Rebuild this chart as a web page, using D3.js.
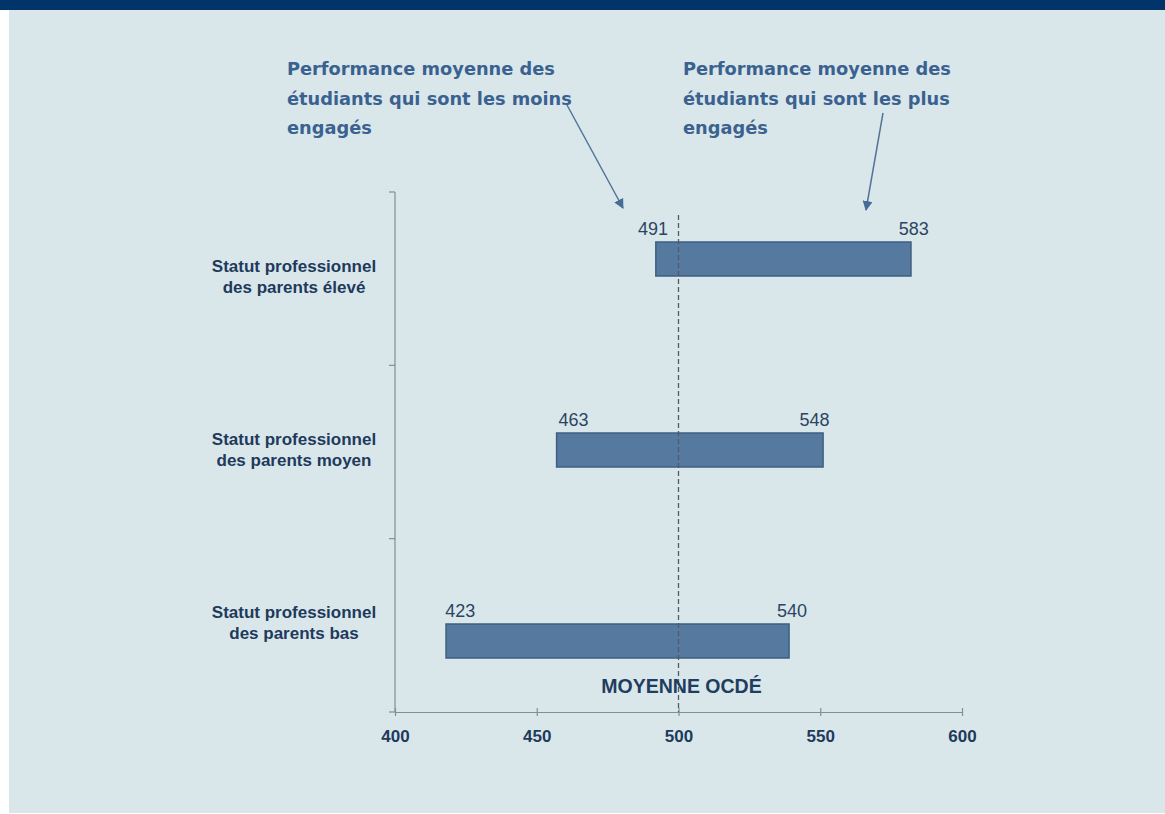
<!DOCTYPE html>
<html><head><meta charset="utf-8">
<script src="https://cdn.jsdelivr.net/npm/d3@7"></script>
<style>
html,body{margin:0;padding:0;background:#ffffff;}
svg{display:block;}
</style></head>
<body>
<svg id="chart" width="1165" height="814"></svg>
<script>
// ---- data ----
const categories = [
  ["Statut professionnel", "des parents élevé"],
  ["Statut professionnel", "des parents moyen"],
  ["Statut professionnel", "des parents bas"]
];
const lowLabels  = [491, 463, 423];   // printed value, least engaged students
const highLabels = [583, 548, 540];   // printed value, most engaged students
const barLow  = [492, 457, 418];      // bar start as drawn in the picture
const barHigh = [582, 551, 539];      // bar end as drawn in the picture
const xTicks = [400, 450, 500, 550, 600];
const oecdMean = 500;
const oecdLabel = "MOYENNE OCDÉ";
const noteLeft  = ["Performance moyenne des", "étudiants qui sont les moins", "engagés"];
const noteRight = ["Performance moyenne des", "étudiants qui sont les plus", "engagés"];

// ---- drawing ----
const svg = d3.select("#chart");
svg.append("rect").attr("x", 0).attr("y", 0).attr("width", 1165).attr("height", 814).attr("fill", "#ffffff");
svg.append("rect").attr("x", 9).attr("y", 0).attr("width", 1156).attr("height", 813).attr("fill", "#dae7ea");
svg.append("rect").attr("x", 0).attr("y", 0).attr("width", 1165).attr("height", 10).attr("fill", "#01356a");

const x = d3.scaleLinear().domain([400, 600]).range([395, 962]);
const idx = categories.map((d, i) => i);
const yBand = d3.scaleBand().domain(idx).range([192, 712]);
const yBar = d3.scalePoint().domain(idx).range([259, 641]);
const barH = 34;

const axisColor = "#7f8f98";
// y axis
svg.append("line").attr("x1", 395).attr("x2", 395).attr("y1", yBand.range()[0]).attr("y2", yBand.range()[1])
  .attr("stroke", axisColor).attr("stroke-width", 1.2);
const yTickPos = idx.map(i => yBand(i)).concat([yBand.range()[1]]);
svg.selectAll(".ytick").data(yTickPos).join("line")
  .attr("x1", 389).attr("x2", 395).attr("y1", d => d).attr("y2", d => d)
  .attr("stroke", axisColor).attr("stroke-width", 1.2);

// x axis
const xAxisG = svg.append("g").attr("transform", "translate(0,712)")
  .call(d3.axisBottom(x).tickValues(xTicks).tickSize(5).tickSizeOuter(0).tickFormat(d3.format("d")));
xAxisG.select(".domain").attr("stroke", axisColor).attr("stroke-width", 1.2);
xAxisG.selectAll(".tick line").attr("stroke", axisColor).attr("stroke-width", 1.2).attr("y1", -4).attr("y2", 4);
xAxisG.selectAll(".tick text").attr("y", 30).attr("dy", 0)
  .attr("font-family", "Liberation Sans, Arial, sans-serif").attr("font-weight", "bold")
  .attr("font-size", 17).attr("fill", "#1e3a5c");

// bars
svg.selectAll(".bar").data(idx).join("rect")
  .attr("x", i => x(barLow[i])).attr("width", i => x(barHigh[i]) - x(barLow[i]))
  .attr("y", i => yBar(i) - barH / 2).attr("height", barH)
  .attr("fill", "#56799f").attr("stroke", "#3f5f82").attr("stroke-width", 1.5);

// dashed OECD line
svg.append("line").attr("x1", x(oecdMean)).attr("x2", x(oecdMean)).attr("y1", 215).attr("y2", 712)
  .attr("stroke", "#4f5b66").attr("stroke-width", 1.3).attr("stroke-dasharray", "5,3");

// value labels
const numFont = "Liberation Sans, Arial, sans-serif";
svg.selectAll(".lowlab").data(idx).join("text")
  .attr("x", i => x(lowLabels[i])).attr("y", i => yBar(i) - barH / 2 - 7)
  .attr("text-anchor", "middle").attr("font-family", numFont).attr("font-size", 18).attr("fill", "#2a4562")
  .text(i => lowLabels[i]);
svg.selectAll(".highlab").data(idx).join("text")
  .attr("x", i => x(highLabels[i])).attr("y", i => yBar(i) - barH / 2 - 7)
  .attr("text-anchor", "middle").attr("font-family", numFont).attr("font-size", 18).attr("fill", "#2a4562")
  .text(i => highLabels[i]);

// category labels
const catG = svg.selectAll(".cat").data(idx).join("text")
  .attr("text-anchor", "middle").attr("font-family", numFont).attr("font-weight", "bold")
  .attr("font-size", 17).attr("fill", "#1e3a5c");
catG.each(function(i) {
  const t = d3.select(this);
  const cy = yBand(i) + yBand.bandwidth() / 2;
  categories[i].forEach((line, k) => {
    t.append("tspan").attr("x", 294).attr("y", cy - 7 + k * 21).text(line);
  });
});

// OECD label
svg.append("text").attr("x", x(oecdMean) + 3).attr("y", 693).attr("text-anchor", "middle")
  .attr("font-family", numFont).attr("font-weight", "bold").attr("font-size", 19.5).attr("fill", "#1f3d60")
  .text(oecdLabel);

// annotations
const noteFont = "DejaVu Sans, sans-serif";
function note(lines, x0) {
  const t = svg.append("text").attr("font-family", noteFont).attr("font-weight", "bold")
    .attr("font-size", 17.8).attr("fill", "#3a6290");
  lines.forEach((l, k) => t.append("tspan").attr("x", x0).attr("y", 75 + k * 29.5).text(l));
}
note(noteLeft, 287);
note(noteRight, 683);

// arrows
const defs = svg.append("defs");
defs.append("marker").attr("id", "ah").attr("viewBox", "0 0 10 10").attr("refX", 9).attr("refY", 5)
  .attr("markerWidth", 10).attr("markerHeight", 10).attr("markerUnits", "userSpaceOnUse").attr("orient", "auto")
  .append("path").attr("d", "M0,0 L10,5 L0,10 Z").attr("fill", "#476d95");
const arrows = [[567, 105, 623, 208], [883, 113, 866, 210]];
svg.selectAll(".arrow").data(arrows).join("line")
  .attr("x1", d => d[0]).attr("y1", d => d[1]).attr("x2", d => d[2]).attr("y2", d => d[3])
  .attr("stroke", "#527598").attr("stroke-width", 1.5).attr("marker-end", "url(#ah)");
</script>
</body></html>
